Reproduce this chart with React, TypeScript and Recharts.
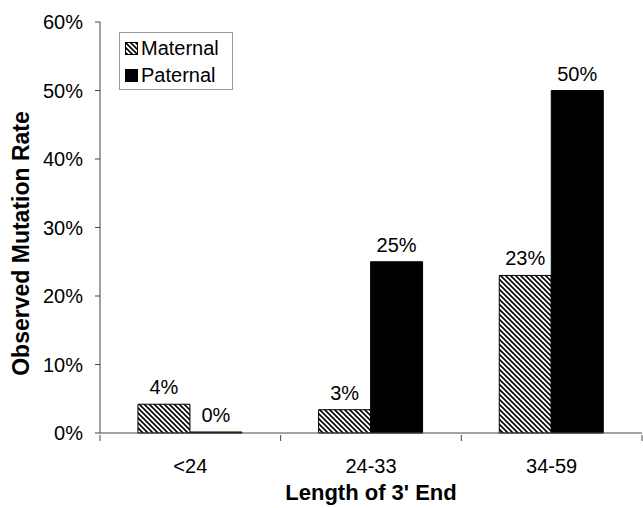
import React from 'react';
import { BarChart, Bar, XAxis, YAxis, LabelList } from 'recharts';

const categories = ['<24', '24-33', '34-59'];
const maternal = [4.2, 3.4, 23];
const paternal = [0, 25, 50];
const yTicks = [0, 10, 20, 30, 40, 50, 60];

const data = categories.map((c, i) => ({ name: c, maternal: maternal[i], paternal: paternal[i] }));

const font = 'Liberation Sans, Arial, sans-serif';

const CatTick = (props: any) => {
  const { x, y, payload, index } = props;
  const half = 542 / 3 / 2;
  return (
    <g>
      <line x1={x - half} y1={y - 6} x2={x - half} y2={y} stroke="#444" />
      {index === categories.length - 1 && (
        <line x1={x + half} y1={y - 6} x2={x + half} y2={y} stroke="#444" />
      )}
      <text x={x} y={y + 32} textAnchor="middle" fontSize={20} fontFamily={font} fill="#000">
        {payload.value}
      </text>
    </g>
  );
};

const Swatch = ({ hatch }: { hatch: boolean }) => (
  <svg width={13} height={13} style={{ marginRight: 3 }}>
    <rect x={0.5} y={0.5} width={12} height={12} fill={hatch ? 'url(#hatch)' : '#000'} stroke="#000" />
  </svg>
);

const pct = (v: any) => `${Math.round(Number(v))}%`;

export default function App() {
  return (
    <div style={{ position: 'absolute', left: 0, top: 0, width: 643, height: 508, background: '#fff' }}>
      <svg width={0} height={0} style={{ position: 'absolute' }}>
        <defs>
          <pattern id="hatch" patternUnits="userSpaceOnUse" width={5} height={5}>
            <path d="M-1,-1 L6,6 M4,-1 L6,1 M-1,4 L1,6" stroke="#000" strokeWidth={1.6} />
          </pattern>
        </defs>
      </svg>
      <BarChart
        width={643}
        height={508}
        data={data}
        margin={{ top: 22, right: 1, left: 0, bottom: 0 }}
        barCategoryGap="21%"
        barGap={0}
      >
        <XAxis
          dataKey="name"
          tick={<CatTick />}
          tickLine={false}
          axisLine={{ stroke: '#444' }}
          interval={0}
          height={75}
          label={{ value: "Length of 3' End", position: 'insideBottom', offset: 8, fontSize: 22, fontWeight: 'bold', fontFamily: font, fill: '#000' }}
        />
        <YAxis
          width={100}
          domain={[0, 60]}
          ticks={yTicks}
          tickFormatter={(v: number) => `${v}%`}
          tickSize={5}
          tickMargin={12}
          tick={{ fontSize: 20, fontFamily: font, fill: '#000' }}
          axisLine={{ stroke: '#444' }}
          tickLine={{ stroke: '#444' }}
          label={{ value: 'Observed Mutation Rate', angle: -90, position: 'center', dx: -29, dy: 16, fontSize: 23, fontWeight: 'bold', fontFamily: font, fill: '#000' }}
        />
        <Bar dataKey="maternal" fill="url(#hatch)" stroke="#000" strokeWidth={1} isAnimationActive={false}>
          <LabelList dataKey="maternal" position="top" offset={10} formatter={pct} fontSize={20} fontFamily={font} fill="#000" />
        </Bar>
        <Bar dataKey="paternal" fill="#000" stroke="#000" strokeWidth={1} minPointSize={1} isAnimationActive={false}>
          <LabelList dataKey="paternal" position="top" offset={10} formatter={pct} fontSize={20} fontFamily={font} fill="#000" />
        </Bar>
      </BarChart>
      <div
        style={{
          position: 'absolute',
          left: 119,
          top: 32,
          width: 101,
          height: 52,
          border: '1px solid #999',
          padding: '2px 6px 2px 5px',
          fontFamily: font,
          fontSize: 20,
          color: '#000',
          background: '#fff',
        }}
      >
        <div style={{ display: 'flex', alignItems: 'center', height: 27 }}>
          <Swatch hatch={true} />Maternal
        </div>
        <div style={{ display: 'flex', alignItems: 'center', height: 27 }}>
          <Swatch hatch={false} />Paternal
        </div>
      </div>
    </div>
  );
}
